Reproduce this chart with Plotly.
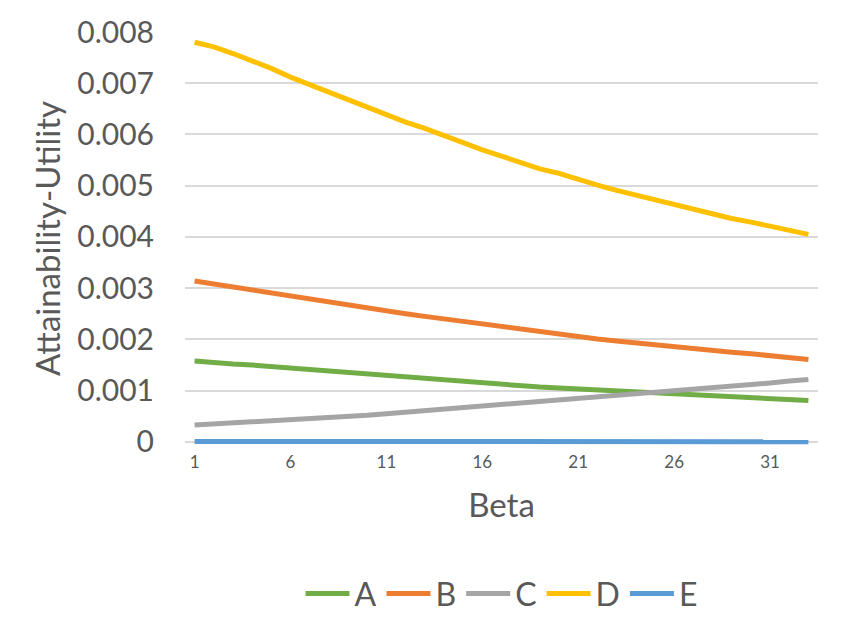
import plotly.graph_objects as go

# beta values on the x axis (category axis, 1..33)
beta = [str(i) for i in range(1, 34)]
beta_ticks = ["1", "6", "11", "16", "21", "26", "31"]

# series
a_vals = [0.00158, 0.00154, 0.00152, 0.00150, 0.00147, 0.00145, 0.00141, 0.00138, 0.00135,
          0.00132, 0.00129, 0.00126, 0.00123, 0.00120, 0.00117, 0.00114, 0.00112, 0.00109,
          0.00107, 0.00105, 0.00103, 0.00101, 0.00099, 0.00097, 0.00095, 0.00093, 0.00091,
          0.00089, 0.00087, 0.00085, 0.00085, 0.00083, 0.00081]
b_vals = [0.00314, 0.00308, 0.00303, 0.00297, 0.00291, 0.00284, 0.00279, 0.00272, 0.00266,
          0.00260, 0.00255, 0.00250, 0.00245, 0.00240, 0.00235, 0.00229, 0.00224, 0.00219,
          0.00214, 0.00209, 0.00205, 0.00201, 0.00197, 0.00193, 0.00189, 0.00185, 0.00182,
          0.00178, 0.00175, 0.00172, 0.00168, 0.00165, 0.00161]
c_vals = [0.00033, 0.00035, 0.00037, 0.00039, 0.00040, 0.00042, 0.00045, 0.00048, 0.00050,
          0.00052, 0.00055, 0.00058, 0.00061, 0.00063, 0.00066, 0.00069, 0.00071, 0.00074,
          0.00078, 0.00081, 0.00084, 0.00087, 0.00090, 0.00093, 0.00096, 0.00099, 0.00102,
          0.00105, 0.00109, 0.00112, 0.00115, 0.00119, 0.00122]
d_vals = [0.00780, 0.00771, 0.00758, 0.00744, 0.00729, 0.00712, 0.00697, 0.00682, 0.00669,
          0.00654, 0.00639, 0.00624, 0.00612, 0.00599, 0.00584, 0.00570, 0.00558, 0.00545,
          0.00533, 0.00524, 0.00512, 0.00501, 0.00491, 0.00482, 0.00472, 0.00462, 0.00454,
          0.00444, 0.00436, 0.00429, 0.00421, 0.00412, 0.00405]
e_vals = [0.00001, 0.00001, 0.00001, 0.00001, 0.00001, 0.00001, 0.00001, 0.00001, 0.00001,
          0.00001, 0.00001, 0.00001, 0.00001, 0.00001, 0.00001, 0.00001, 0.00001, 0.00001,
          0.00001, 0.00001, 0.00001, 0.00001, 0.00001, 0.00001, 0.00001, 0.00001, 0.00001,
          0.00001, 0.00001, 0.00001, 0.00001, 0.00001, 0.000003]

series = [("A", a_vals, "#70AD47"),
          ("B", b_vals, "#ED7D31"),
          ("C", c_vals, "#A5A5A5"),
          ("D", d_vals, "#FFC000"),
          ("E", e_vals, "#5B9BD5")]

fig = go.Figure()
for name, vals, col in series:
    fig.add_trace(go.Scatter(x=beta, y=vals, name=name, mode="lines",
                             line=dict(color=col, width=5)))

txt = "#595959"
# page body adds 8px offset, margins compensate for it
fig.update_layout(
    width=842, height=625,
    margin=dict(l=177, r=32, t=24, b=188, autoexpand=False),
    plot_bgcolor="white", paper_bgcolor="white",
    font=dict(family="Lato, Open Sans, sans-serif", color=txt),
    legend=dict(orientation="h", x=0.5, xanchor="center", y=-0.36, yanchor="middle",
                font=dict(size=32, color=txt), itemwidth=44),
)
fig.update_xaxes(type="category", tickvals=beta_ticks, range=[-0.5, 32.5],
                 tickfont=dict(size=17), showgrid=False, showline=False,
                 ticks="", ticklabelstandoff=5, automargin=False,
                 title=dict(text="Beta", font=dict(size=33), standoff=22))
# range dips a little below zero so the near-zero line is not clipped
fig.update_yaxes(range=[-0.00006, 0.008], tickvals=[0, 0.001, 0.002, 0.003, 0.004,
                 0.005, 0.006, 0.007, 0.008], tickformat="~g",
                 tickfont=dict(size=30), gridcolor="#D9D9D9", gridwidth=1.5,
                 zeroline=False, showline=False, ticklabelstandoff=30, automargin=False,
                 title=dict(text="Attainability-Utility", font=dict(size=33), standoff=6))

fig.write_html("out.html")
